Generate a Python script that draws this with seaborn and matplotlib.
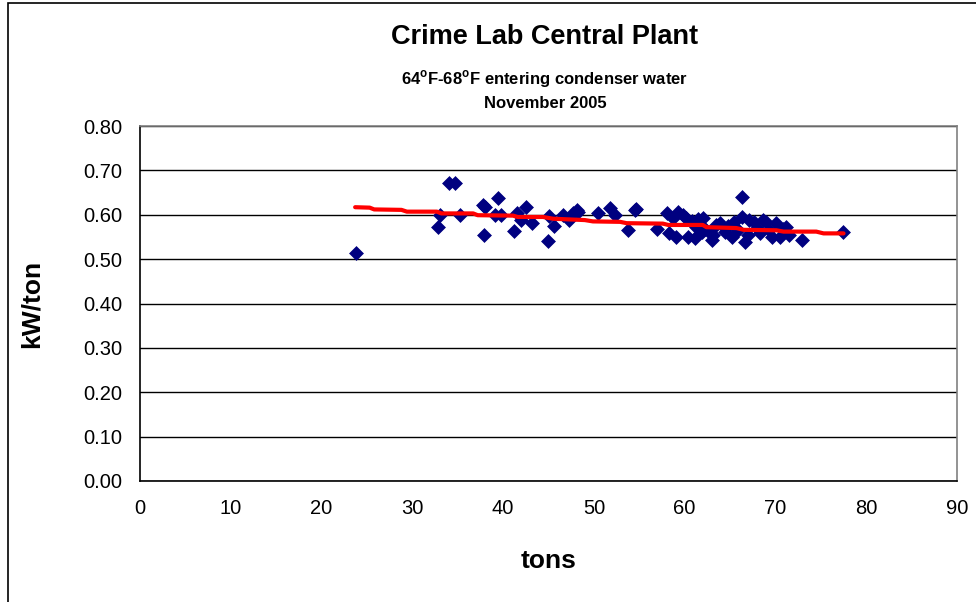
import numpy as np
import pandas as pd
import matplotlib
matplotlib.use("Agg")
import matplotlib.pyplot as plt
import seaborn as sns
from matplotlib.patches import Rectangle

# =========================
# DATA
# =========================

tons = [23.8, 32.8, 33.0, 34.0, 34.7, 35.2, 37.8, 38.0, 37.9, 39.4,
        39.1, 39.8, 41.2, 41.5, 42.0, 42.5, 43.2, 45.0, 44.9, 45.6,
        46.6, 47.3, 47.7, 48.1, 48.3, 50.5, 51.8, 52.3, 53.8, 54.5,
        54.6, 56.9, 58.1, 58.3, 58.7, 59.3, 59.1, 59.8, 60.2, 60.4,
        60.8, 61.1, 61.3, 61.5, 62.0, 61.9, 62.2, 62.8, 63.0, 63.1,
        63.5, 63.9, 64.4, 64.8, 65.2, 65.4, 65.9, 66.3, 66.3, 66.6,
        67.0, 67.1, 67.6, 68.0, 68.3, 68.6, 69.0, 69.3, 69.6, 70.1,
        70.5, 70.8, 71.2, 71.5, 72.9, 77.4]

kw_per_ton = [0.513, 0.572, 0.599, 0.671, 0.671, 0.599, 0.622, 0.617, 0.554, 0.637,
              0.599, 0.600, 0.563, 0.603, 0.588, 0.618, 0.581, 0.597, 0.541, 0.575,
              0.599, 0.588, 0.605, 0.611, 0.607, 0.605, 0.615, 0.600, 0.566, 0.610,
              0.614, 0.567, 0.603, 0.558, 0.592, 0.607, 0.550, 0.600, 0.592, 0.550,
              0.585, 0.547, 0.573, 0.590, 0.592, 0.562, 0.569, 0.558, 0.543, 0.554,
              0.577, 0.581, 0.562, 0.574, 0.550, 0.584, 0.565, 0.595, 0.639, 0.539,
              0.554, 0.588, 0.584, 0.570, 0.558, 0.588, 0.584, 0.565, 0.550, 0.581,
              0.550, 0.568, 0.573, 0.554, 0.543, 0.562]

# red trend line vertices
trend_x = [23.7, 25.3, 25.8, 28.8, 29.4, 32.7, 33.2, 36.7, 37.2, 41.1,
           41.6, 44.4, 45.5, 49.0, 49.9, 52.9, 53.6, 57.6, 58.2, 62.0,
           62.4, 65.7, 66.5, 70.1, 70.9, 74.5, 75.3, 77.5]
trend_y = [0.617, 0.616, 0.612, 0.611, 0.607, 0.607, 0.603, 0.603, 0.599, 0.598,
           0.595, 0.595, 0.591, 0.588, 0.585, 0.584, 0.581, 0.580, 0.577, 0.577,
           0.572, 0.570, 0.566, 0.565, 0.562, 0.562, 0.558, 0.558]

x_ticks = [0, 10, 20, 30, 40, 50, 60, 70, 80, 90]
y_ticks = [0.0, 0.1, 0.2, 0.3, 0.4, 0.5, 0.6, 0.7, 0.8]

df = pd.DataFrame({"tons": tons, "kW/ton": kw_per_ton})
trend = pd.DataFrame({"tons": trend_x, "kW/ton": trend_y})

# =========================
# STYLE
# =========================

sns.set_style("white")
plt.rcParams["font.family"] = ["Liberation Sans", "DejaVu Sans"]
plt.rcParams["mathtext.fontset"] = "custom"
plt.rcParams["mathtext.bf"] = "Liberation Sans:bold"
plt.rcParams["mathtext.rm"] = "Liberation Sans"
plt.rcParams["text.color"] = "black"
plt.rcParams["axes.labelcolor"] = "black"
plt.rcParams["xtick.color"] = "black"
plt.rcParams["ytick.color"] = "black"

fig = plt.figure(figsize=(9.76, 6.02), dpi=100)
ax = fig.add_axes([140 / 976, 1 - 481 / 602, (957 - 140) / 976, (481 - 126) / 602])

# chart border
fig.patches.append(Rectangle((8 / 976, -0.2), 1.2, 0.2 + 1 - 3 / 602,
                             transform=fig.transFigure, fill=False,
                             edgecolor="black", linewidth=1.2))

# =========================
# PLOT
# =========================

sns.scatterplot(data=df, x="tons", y="kW/ton", ax=ax, marker="D", s=50,
                color="#000080", edgecolor="#000080", linewidth=0.5, zorder=3)
sns.lineplot(data=trend, x="tons", y="kW/ton", ax=ax, sort=False,
             color="#ff0000", linewidth=3, zorder=4)

ax.set_xlim(0, 90)
ax.set_ylim(0, 0.8)
ax.set_xticks(x_ticks)
ax.set_yticks(y_ticks)
ax.set_yticklabels([f"{v:.2f}" for v in y_ticks])
ax.yaxis.grid(True, color="black", linewidth=1)
ax.xaxis.grid(False)
ax.set_axisbelow(True)

for side in ["top", "right"]:
    ax.spines[side].set_color("#808080")
    ax.spines[side].set_linewidth(1.2)
for side in ["left", "bottom"]:
    ax.spines[side].set_color("black")
    ax.spines[side].set_linewidth(1.2)

ax.tick_params(axis="both", direction="out", length=5, width=1,
               color="black", labelcolor="black", labelsize=14.5, pad=8)

ax.set_xlabel("tons", fontsize=19, fontweight="bold", labelpad=22)
ax.set_ylabel("kW/ton", fontsize=19, fontweight="bold", labelpad=28)

fig.text(545 / 976, 1 - 37 / 602, "Crime Lab Central Plant",
         ha="center", va="center", fontsize=19.5, fontweight="bold")
fig.text(545 / 976, 1 - 79 / 602,
         r"64$^{\mathbf{o}}$F-68$^{\mathbf{o}}$F entering condenser water",
         ha="center", va="center", fontsize=12, fontweight="bold")
fig.text(545 / 976, 1 - 103 / 602, "November 2005",
         ha="center", va="center", fontsize=12, fontweight="bold")

plt.savefig("out.png", dpi=100)
